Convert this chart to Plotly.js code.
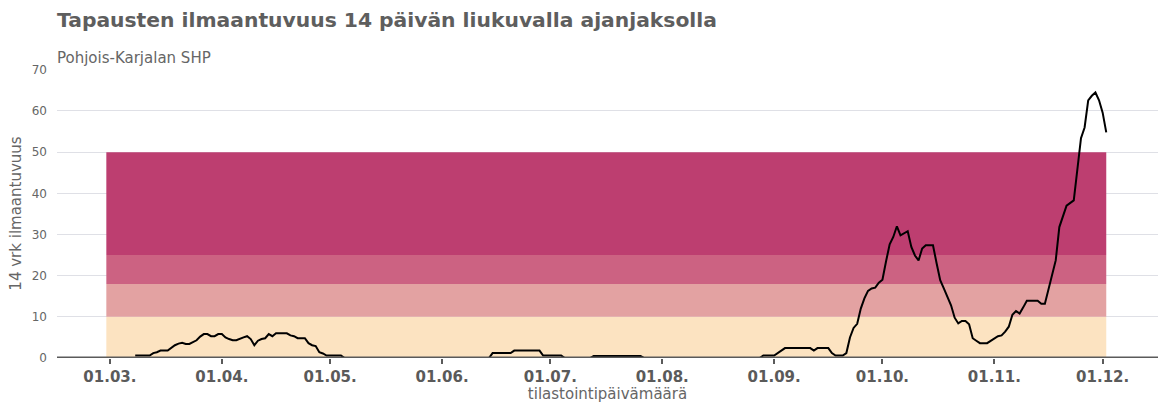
<!DOCTYPE html>
<html>
<head>
<meta charset="utf-8">
<script src="https://cdn.plot.ly/plotly-3.0.1.min.js"></script>
<style>
html,body{margin:0;padding:0;background:#fff;}
#chart{width:1158px;height:403px;}
</style>
</head>
<body>
<div id="chart"></div>
<script>
// Incidence per 100 000, 14-day rolling window
const dates = [
  "2020-03-08","2020-03-12","2020-03-13","2020-03-14","2020-03-15","2020-03-17","2020-03-19","2020-03-20","2020-03-21","2020-03-22",
  "2020-03-23","2020-03-24","2020-03-25","2020-03-26","2020-03-27","2020-03-28","2020-03-29","2020-03-30","2020-03-31","2020-04-01",
  "2020-04-02","2020-04-03","2020-04-04","2020-04-05","2020-04-06","2020-04-07","2020-04-08","2020-04-09","2020-04-10","2020-04-11",
  "2020-04-12","2020-04-13","2020-04-14","2020-04-15","2020-04-16","2020-04-19","2020-04-20","2020-04-21","2020-04-22","2020-04-24",
  "2020-04-25","2020-04-26","2020-04-27","2020-04-28","2020-04-29","2020-04-30","2020-05-04","2020-05-05",
  "2020-06-14","2020-06-15","2020-06-20","2020-06-21","2020-06-28","2020-06-29","2020-07-04","2020-07-05",
  "2020-07-12","2020-07-13","2020-07-26","2020-07-27",
  "2020-08-28","2020-08-29","2020-09-01","2020-09-02","2020-09-03","2020-09-04","2020-09-11","2020-09-12","2020-09-13","2020-09-16",
  "2020-09-17","2020-09-18","2020-09-20","2020-09-21","2020-09-22","2020-09-23","2020-09-24","2020-09-25","2020-09-26","2020-09-27",
  "2020-09-28","2020-09-29","2020-09-30","2020-10-01","2020-10-02","2020-10-03","2020-10-04","2020-10-05","2020-10-06","2020-10-07",
  "2020-10-08","2020-10-09","2020-10-10","2020-10-11","2020-10-12","2020-10-13","2020-10-15","2020-10-16","2020-10-17","2020-10-18",
  "2020-10-19","2020-10-20","2020-10-21","2020-10-22","2020-10-23","2020-10-24","2020-10-25","2020-10-26","2020-10-27","2020-10-28",
  "2020-10-30","2020-10-31","2020-11-01","2020-11-02","2020-11-03","2020-11-04","2020-11-05","2020-11-06","2020-11-07","2020-11-08",
  "2020-11-09","2020-11-10","2020-11-13","2020-11-14","2020-11-15","2020-11-16","2020-11-17","2020-11-18","2020-11-19","2020-11-20",
  "2020-11-21","2020-11-23","2020-11-24","2020-11-25","2020-11-26","2020-11-27","2020-11-28","2020-11-29","2020-11-30","2020-12-01",
  "2020-12-02"
];
const incidence = [
  0.6,0.6,1.2,1.4,1.8,1.8,3.1,3.5,3.7,3.4,
  3.4,3.9,4.3,5.2,5.8,5.8,5.3,5.3,5.8,5.8,
  5.0,4.6,4.3,4.3,4.7,5.0,5.3,4.6,3.1,4.2,
  4.6,4.8,5.8,5.3,6.0,6.0,5.5,5.3,4.8,4.8,
  3.6,3.1,2.9,1.4,1.1,0.6,0.6,0,
  0,1.2,1.2,1.8,1.8,0.6,0.6,0,
  0,0.5,0.5,0,
  0,0.6,0.6,1.2,1.8,2.4,2.4,1.8,2.4,2.4,
  1.2,0.6,0.6,1.2,5.0,7.3,8.3,12.0,14.5,16.3,
  16.9,17.1,18.3,19.0,23.5,27.6,29.4,32.0,29.8,30.3,
  30.8,27.0,24.9,23.7,26.6,27.4,27.4,23.0,18.9,16.9,
  14.8,12.8,9.8,8.4,9.0,9.0,8.2,4.8,4.2,3.6,
  3.6,4.2,4.8,5.3,5.5,6.4,7.6,10.5,11.4,10.8,
  12.3,13.9,13.9,13.2,13.2,16.5,20.5,23.7,31.8,34.5,
  37.0,38.3,46.3,53.4,56.0,62.6,63.7,64.5,62.6,59.6,
  54.8
];
// Risk bands
const bandLower = [0, 10, 18, 25];
const bandUpper = [10, 18, 25, 50];
const bandColors = ["#fce3c1", "#e3a2a2", "#cc6282", "#bd3e70"];
const bandStart = "2020-02-29";
const bandEnd = "2020-12-02";

const yTicks = [0,10,20,30,40,50,60,70];

const traces = [];
for (let i = 0; i < bandLower.length; i++) {
  traces.push({
    type: "scatter", mode: "lines",
    x: [bandStart, bandEnd, bandEnd, bandStart, bandStart],
    y: [bandLower[i], bandLower[i], bandUpper[i], bandUpper[i], bandLower[i]],
    fill: "toself", fillcolor: bandColors[i],
    line: {width: 0, color: bandColors[i]},
    hoverinfo: "skip", showlegend: false
  });
}
traces.push({
  type: "scatter", mode: "lines",
  x: dates, y: incidence,
  line: {color: "#000000", width: 2},
  showlegend: false
});

const textColor = "#5f5f5f";
const layout = {
  width: 1158, height: 403,
  margin: {l: 57, r: 0, t: 69, b: 45, pad: 0},
  paper_bgcolor: "#ffffff", plot_bgcolor: "#ffffff",
  font: {family: "DejaVu Sans, sans-serif", color: textColor},
  title: {
    text: "<b>Tapausten ilmaantuvuus 14 päivän liukuvalla ajanjaksolla</b>",
    font: {family: "DejaVu Sans, sans-serif", size: 20.3, color: "#5e5e5e"},
    x: 57/1158, xref: "container", xanchor: "left",
    y: 1 - 20/403, yref: "container", yanchor: "middle"
  },
  annotations: [{
    text: "Pohjois-Karjalan SHP",
    xref: "paper", yref: "paper", x: 0, y: (358-58)/289, xshift: -2,
    xanchor: "left", yanchor: "middle", showarrow: false,
    font: {family: "DejaVu Sans, sans-serif", size: 15, color: "#666666"}
  }],
  shapes: [{
    type: "line", layer: "above",
    xref: "paper", x0: 0, x1: 1, yref: "y", y0: 0, y1: 0,
    line: {color: "#5a5a5a", width: 3}
  }],
  xaxis: {
    type: "date",
    range: ["2020-02-15 08:00", "2020-12-16 08:00"],
    tick0: "2020-03-01", dtick: "M1", tickformat: "%d.%m.",
    showgrid: false, zeroline: false,
    showline: false,
    ticks: "outside", ticklen: 5, tickwidth: 2, tickcolor: "#5a5a5a",
    tickfont: {family: "DejaVu Sans, sans-serif", size: 15, color: "#5a5a5a", weight: "bold"},
    title: {text: "tilastointipäivämäärä", font: {size: 15, color: "#666666"}, standoff: 6},
    fixedrange: true
  },
  yaxis: {
    range: [0, 70.2],
    tickvals: yTicks,
    showgrid: true, gridcolor: "#dfe0e6", gridwidth: 1,
    zeroline: false, showline: false, ticks: "",
    tickfont: {family: "DejaVu Sans, sans-serif", size: 12, color: "#666666"},
    ticklabelstandoff: 9,
    title: {text: "14 vrk ilmaantuvuus", font: {size: 15, color: "#666666"}, standoff: 6},
    fixedrange: true
  }
};

Plotly.newPlot("chart", traces, layout, {displayModeBar: false, staticPlot: true});
</script>
</body>
</html>
